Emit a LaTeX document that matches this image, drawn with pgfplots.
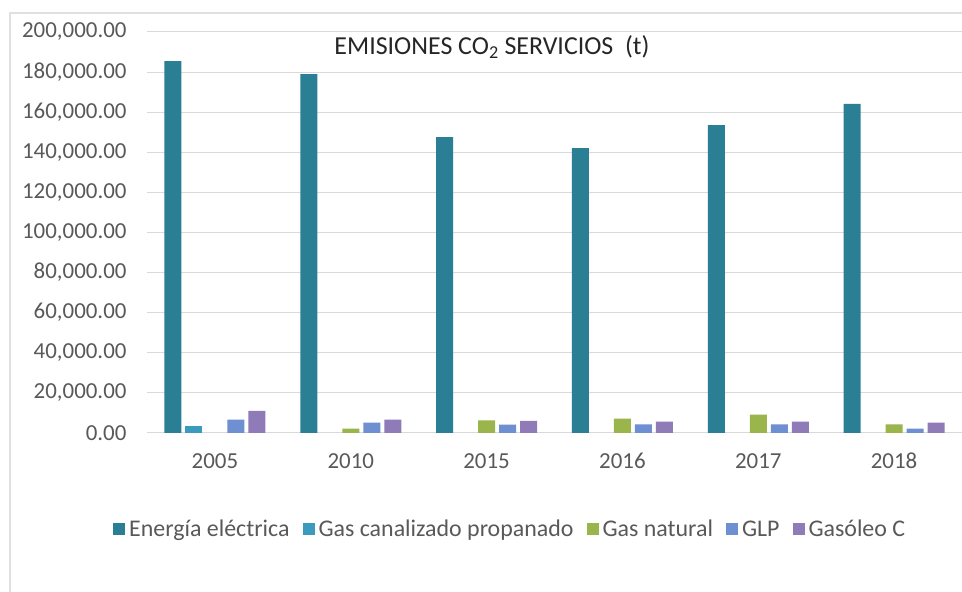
\documentclass[border=0pt]{standalone}
\usepackage{pgfplots}
\pgfplotsset{compat=1.18}
\usepackage{fontspec}
\setmainfont{Carlito}
\definecolor{cEn}{HTML}{2B7F94}
\definecolor{cGc}{HTML}{3A9BBE}
\definecolor{cGn}{HTML}{9AB54C}
\definecolor{cGlp}{HTML}{6E8FD2}
\definecolor{cGas}{HTML}{8E7BB8}
\definecolor{txt}{HTML}{595959}
\definecolor{gridc}{HTML}{D9D9D9}
\begin{document}
\begin{tikzpicture}[x=1bp,y=1bp]
\useasboundingbox (0,0) rectangle (962,592);
\fill[white] (0,0) rectangle (962,592);
\draw[black!12, line width=1.5bp] (10,0) -- (10,579) -- (962,579);
\begin{axis}[
  at={(147bp,159bp)}, anchor=south west,
  scale only axis, width=815bp, height=401bp,
  ybar=4bp, bar width=17bp,
  xmin=-0.5, xmax=5.5, ymin=0, ymax=200000,
  xtick={0,...,5}, xticklabels={2005,2010,2015,2016,2017,2018},
  ytick={0,20000,...,200000},
  ymajorgrids, grid style={gridc, line width=1bp},
  axis x line*=bottom, axis y line*=left,
  x axis line style={gridc, line width=1bp, -},
  y axis line style={draw=none},
  major tick length=0pt,
  tick label style={font=\fontsize{23}{26}\selectfont, text=txt},
  yticklabel style={xshift=-17bp},
  xticklabel style={yshift=-16bp, text height=16bp, text depth=2bp},
  scaled y ticks=false,
  y tick label style={/pgf/number format/.cd, fixed, fixed zerofill, precision=2, 1000 sep={,}, assume math mode=true},
  clip=false,
  legend columns=-1,
  legend style={at={(0.445,-0.24)}, anchor=center, draw=none, fill=none,
    font=\fontsize{24}{27}\selectfont, text=txt,
    nodes={inner xsep=1bp},
    /tikz/every odd column/.append style={column sep=3bp},
    /tikz/every even column/.append style={column sep=12bp}},
  legend image code/.code={\fill[#1] (0bp,-6bp) rectangle (12bp,6bp);},
]
\addplot[fill=cEn, draw=none] coordinates {(0,185500) (1,179000) (2,147600) (3,142100) (4,153600) (5,164100)};
\addlegendentry{Energía eléctrica}
\addplot[fill=cGc, draw=none] coordinates {(0,3600)};
\addlegendentry{Gas canalizado propanado}
\addplot[fill=cGn, draw=none] coordinates {(1,2200) (2,6300) (3,7200) (4,9200) (5,4300)};
\addlegendentry{Gas natural}
\addplot[fill=cGlp, draw=none] coordinates {(0,6700) (1,5200) (2,4200) (3,4300) (4,4300) (5,2200)};
\addlegendentry{GLP}
\addplot[fill=cGas, draw=none] coordinates {(0,11000) (1,6700) (2,6000) (3,5700) (4,5700) (5,5200)};
\addlegendentry{Gasóleo C}
\end{axis}
\node[text=black!85, font=\fontsize{26}{29}\selectfont] at (492,545) {EMISIONES CO\textsubscript{2} SERVICIOS~~(t)};
\end{tikzpicture}
\end{document}
